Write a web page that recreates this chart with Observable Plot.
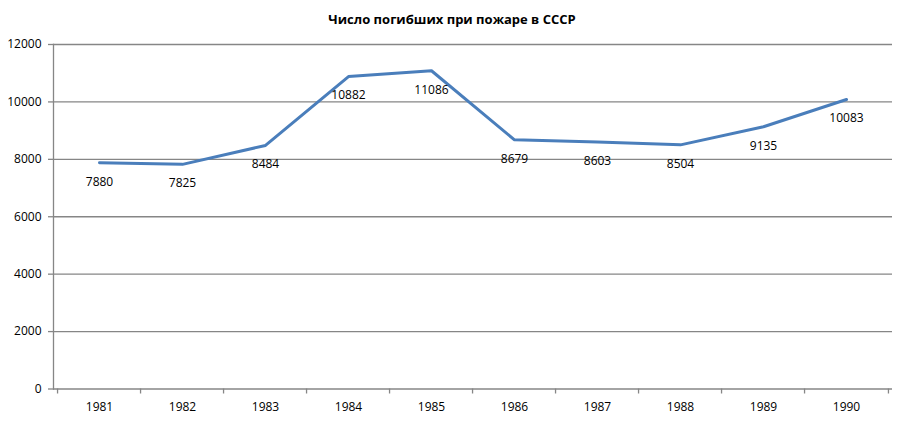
<!DOCTYPE html>
<html><head><meta charset="utf-8">
<script src="https://cdn.jsdelivr.net/npm/d3@7"></script>
<script src="https://cdn.jsdelivr.net/npm/@observablehq/plot@0.6"></script>
<style>
body{margin:0;background:#fff;}
#title{width:900px;height:34px;box-sizing:border-box;padding-top:10px;text-align:center;font:bold 13px "Open Sans",sans-serif;color:#000;line-height:18px;padding-left:4px;}
#chart svg{display:block;}
</style></head>
<body>
<div id="title">Число погибших при пожаре в СССР</div>
<div id="chart"></div>
<script>
const years = ["1981","1982","1983","1984","1985","1986","1987","1988","1989","1990"];
const deaths = [7880, 7825, 8484, 10882, 11086, 8679, 8603, 8504, 9135, 10083];
const yTicks = [0, 2000, 4000, 6000, 8000, 10000, 12000];

const data = years.map((y, i) => ({year: y, value: deaths[i]}));
const W = 900, ML = 53, MR = 8;
const step = (W - ML - MR) / years.length;
const grey = "#868686";

const chart = Plot.plot({
  width: W, height: 395,
  marginTop: 10, marginBottom: 40.5, marginLeft: ML, marginRight: MR,
  style: {fontFamily: "'Open Sans', sans-serif", fontSize: "12px", color: "#000", background: "#fff"},
  x: {type: "point", domain: years, padding: 0.5, label: null},
  y: {domain: [0, 12000], label: null},
  marks: [
    Plot.gridY(yTicks.slice(1), {stroke: grey, strokeOpacity: 1, strokeWidth: 1.3}),
    Plot.ruleY([0], {stroke: grey, strokeWidth: 1.3}),
    Plot.frame({anchor: "left", stroke: grey, strokeWidth: 1.3}),
    Plot.axisY({ticks: yTicks, tickSize: 5, tickPadding: 7, stroke: grey, strokeOpacity: 1, strokeWidth: 1.3, label: null, tickFormat: d => String(d), fill: "#000"}),
    Plot.axisX({ticks: years, tickSize: 5, text: null, dx: -step / 2, stroke: grey, strokeOpacity: 1, strokeWidth: 1.3, label: null}),
    Plot.axisX({ticks: [years[years.length - 1]], tickSize: 5, text: null, dx: step / 2, stroke: grey, strokeOpacity: 1, strokeWidth: 1.3, label: null}),
    Plot.axisX({ticks: years, tickSize: 0, tickPadding: 13, label: null, fill: "#000"}),
    Plot.line(data, {x: "year", y: "value", stroke: "#4a7ebb", strokeWidth: 3, strokeLinejoin: "round"}),
    Plot.text(data, {x: "year", y: "value", text: d => String(d.value), dy: 19, fill: "#000", fontSize: 12})
  ]
});
document.getElementById("chart").append(chart);
</script>
</body></html>
